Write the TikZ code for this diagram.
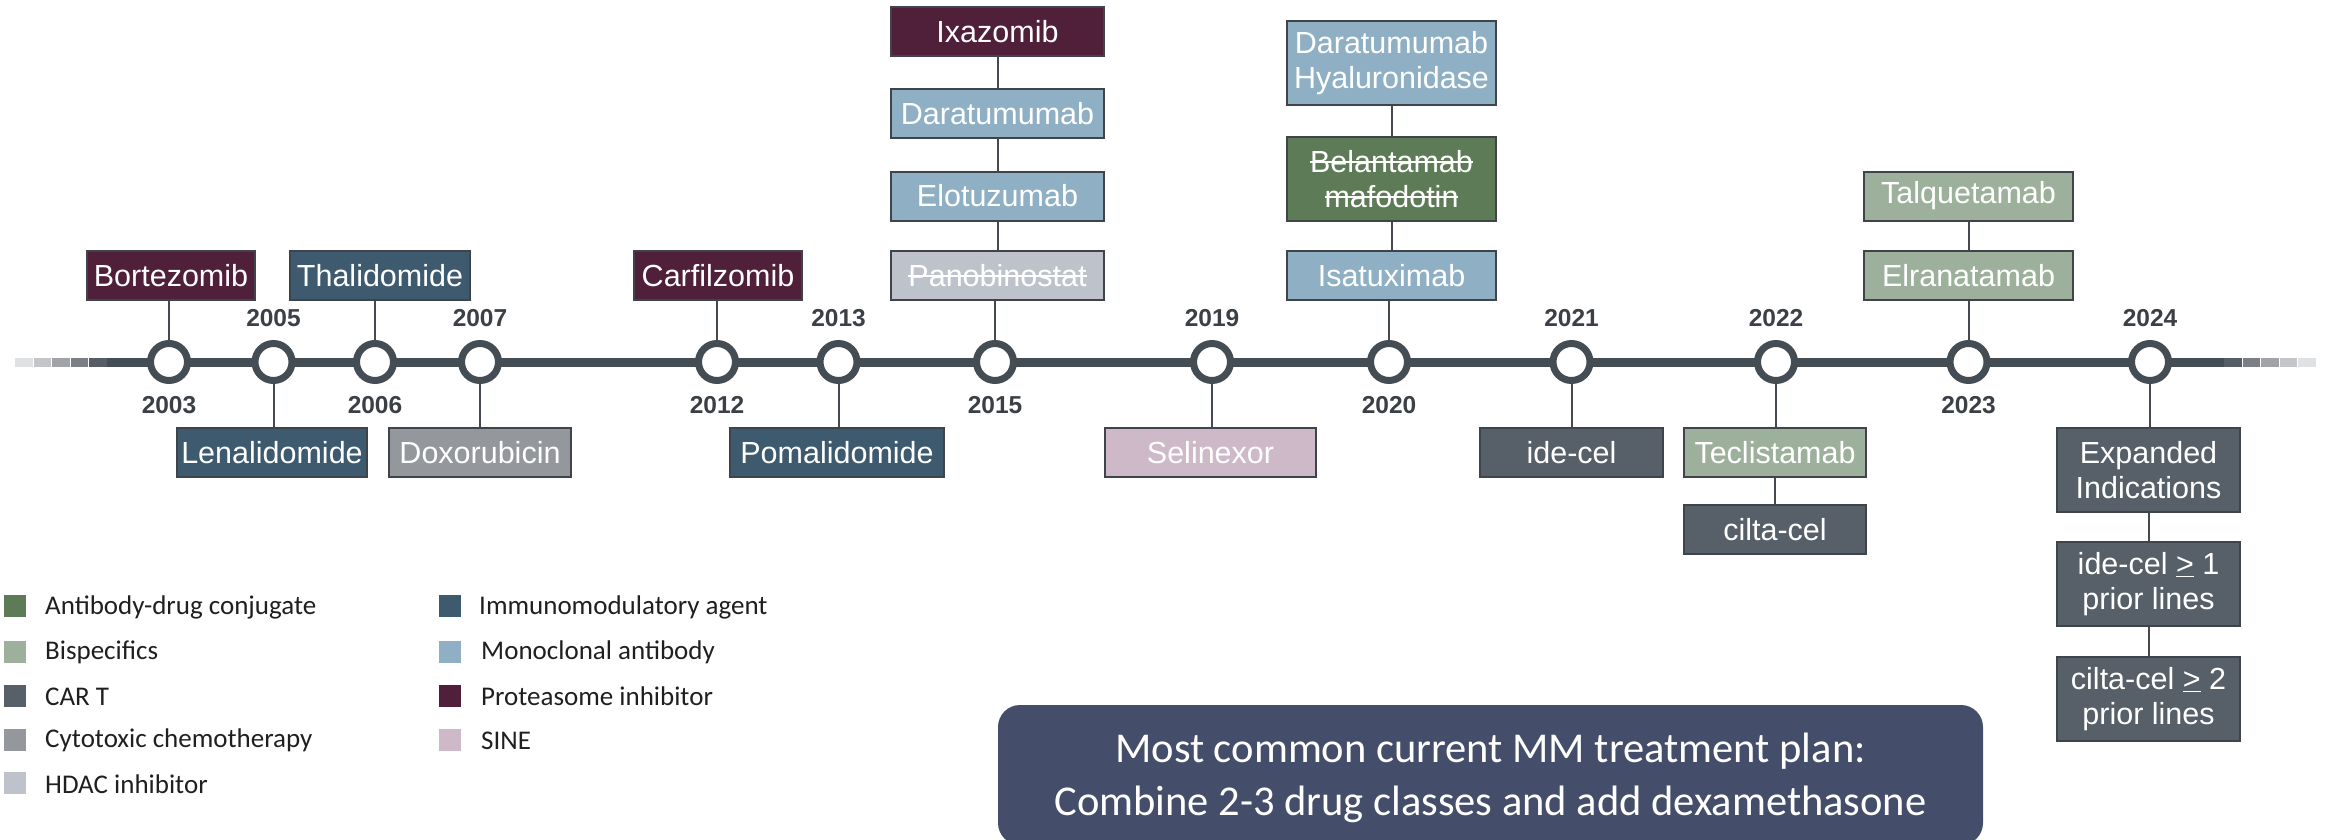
\documentclass[tikz,border=0pt]{standalone}
\usepackage{fontspec}
\setmainfont{Liberation Sans}
\newfontfamily\legfont{Carlito}
\newsavebox\strkbox
\newcommand\strk[1]{\leavevmode\sbox\strkbox{#1}\rlap{\raise0.3em\hbox{\vrule width\wd\strkbox height 1.9pt depth 0pt}}\usebox\strkbox}
\definecolor{adc}{HTML}{5E7B57}
\definecolor{bis}{HTML}{9DB09B}
\definecolor{cart}{HTML}{575F68}
\definecolor{cyto}{HTML}{94979B}
\definecolor{hdac}{HTML}{BEC3CB}
\definecolor{imid}{HTML}{3D5A6E}
\definecolor{mab}{HTML}{8FB0C4}
\definecolor{prot}{HTML}{501F39}
\definecolor{sine}{HTML}{CDB9C7}
\definecolor{tl}{HTML}{444C54}
\definecolor{boxline}{HTML}{3E444A}
\definecolor{connc}{HTML}{454A50}
\definecolor{yearc}{HTML}{3B4046}
\definecolor{navy}{HTML}{444D6A}
\definecolor{legtext}{HTML}{1F1F1F}
\definecolor{fa}{HTML}{DFE1E3}
\definecolor{fb}{HTML}{C3C6C9}
\definecolor{fc}{HTML}{A0A4A8}
\definecolor{fd}{HTML}{7A7F85}
\definecolor{fe}{HTML}{575D64}
\begin{document}
\begin{tikzpicture}[x=1pt,y=-1pt,
  bx/.style={draw=boxline, line width=2pt, text=white, font=\fontsize{30.5}{35}\selectfont,
    align=center, inner sep=0pt, minimum height=49pt},
  bxt/.style={bx, minimum height=84pt},
  yr/.style={font=\bfseries\fontsize{24.5}{24.5}\selectfont, text=yearc, inner sep=0pt},
  dot/.style={circle, draw=tl, line width=7pt, fill=white, minimum size=37pt, inner sep=0pt},
  conn/.style={draw=connc, line width=2pt},
  legsq/.style={minimum size=22pt, inner sep=0pt},
  legtx/.style={anchor=west, font=\legfont\fontsize{27}{27}\selectfont, text=legtext, inner sep=0pt}
]
\useasboundingbox (0,0) rectangle (2329,840);

% timeline
\coordinate (tlA) at (105,362);
\coordinate (tlB) at (2226,362);
\draw[tl, line width=9pt] (tlA) -- (tlB);
\fill[fa] (15,357.5) rectangle (32.5,366.5);
\fill[fb] (33.5,357.5) rectangle (51,366.5);
\fill[fc] (52,357.5) rectangle (69.5,366.5);
\fill[fd] (70.5,357.5) rectangle (88,366.5);
\fill[fe] (89,357.5) rectangle (106.5,366.5);
\fill[fe] (2224,357.5) rectangle (2241.5,366.5);
\fill[fd] (2242.5,357.5) rectangle (2260,366.5);
\fill[fc] (2261,357.5) rectangle (2278.5,366.5);
\fill[fb] (2279.5,357.5) rectangle (2297,366.5);
\fill[fa] (2298,357.5) rectangle (2316,366.5);

% circles
\node[dot] (c2003) at (169,362) {};
\node[dot] (c2005) at (273.5,362) {};
\node[dot] (c2006) at (375,362) {};
\node[dot] (c2007) at (480,362) {};
\node[dot] (c2012) at (717,362) {};
\node[dot] (c2013) at (838.5,362) {};
\node[dot] (c2015) at (995,362) {};
\node[dot] (c2019) at (1212,362) {};
\node[dot] (c2020) at (1389,362) {};
\node[dot] (c2021) at (1571.5,362) {};
\node[dot] (c2022) at (1776,362) {};
\node[dot] (c2023) at (1968.5,362) {};
\node[dot] (c2024) at (2150,362) {};

% years
\node[yr] (y2003) at (169,405) {2003};
\node[yr] (y2005) at (273.5,318) {2005};
\node[yr] (y2006) at (375,405) {2006};
\node[yr] (y2007) at (480,318) {2007};
\node[yr] (y2012) at (717,405) {2012};
\node[yr] (y2013) at (838.5,318) {2013};
\node[yr] (y2015) at (995,405) {2015};
\node[yr] (y2019) at (1212,318) {2019};
\node[yr] (y2020) at (1389,405) {2020};
\node[yr] (y2021) at (1571.5,318) {2021};
\node[yr] (y2022) at (1776,318) {2022};
\node[yr] (y2023) at (1968.5,405) {2023};
\node[yr] (y2024) at (2150,318) {2024};

% top boxes
\node[bx, fill=prot, minimum width=168pt] (bort) at (171,275.5) {Bortezomib};
\node[bx, fill=imid, minimum width=180pt] (thal) at (380,275.5) {Thalidomide};
\node[bx, fill=prot, minimum width=168pt] (carf) at (718,275.5) {Carfilzomib};
\node[bx, fill=hdac, minimum width=213pt] (pano) at (997.5,275.5) {\strk{Panobinostat}};
\node[bx, fill=mab, minimum width=213pt] (elot) at (997.5,196) {Elotuzumab};
\node[bx, fill=mab, minimum width=213pt] (dara) at (997.5,114) {Daratumumab};
\node[bx, fill=prot, minimum width=213pt] (ixaz) at (997.5,32) {Ixazomib};
\node[bx, fill=mab, minimum width=209pt] (isat) at (1391.5,275.5) {Isatuximab};
\node[bxt, fill=adc, minimum width=209pt] (bela) at (1391.5,179) {\strk{Belantamab}\\\strk{mafodotin}};
\node[bxt, fill=mab, minimum width=209pt] (dh) at (1391.5,63) {Daratumumab\\Hyaluronidase};
\node[bx, fill=bis, minimum width=209pt] (elra) at (1968.5,275.5) {Elranatamab};
\node[bx, fill=bis, minimum width=209pt] (talq) at (1968.5,196) {Talquetamab};

% bottom boxes
\node[bx, fill=imid, minimum width=190pt] (lena) at (272,452.5) {Lenalidomide};
\node[bx, fill=cyto, minimum width=182pt] (doxo) at (480,452.5) {Doxorubicin};
\node[bx, fill=imid, minimum width=214pt] (poma) at (837,452.5) {Pomalidomide};
\node[bx, fill=sine, minimum width=211pt] (seli) at (1210.5,452.5) {Selinexor};
\node[bx, fill=cart, minimum width=183pt] (idec) at (1571.5,452.5) {ide-cel};
\node[bx, fill=bis, minimum width=182pt] (tecl) at (1775,452.5) {Teclistamab};
\node[bx, fill=cart, minimum width=182pt] (cilt) at (1775,529.5) {cilta-cel};
\node[bxt, fill=cart, minimum width=183pt] (expa) at (2148.5,470) {Expanded\\Indications};
\node[bxt, fill=cart, minimum width=183pt] (ide1) at (2148.5,584) {ide-cel \underline{>} 1\\prior lines};
\node[bxt, fill=cart, minimum width=183pt] (cil2) at (2148.5,699) {cilta-cel \underline{>} 2\\prior lines};

% connectors
\draw[conn] (c2003.north) -- (c2003.north |- bort.south);
\draw[conn] (c2005.south) -- (c2005.south |- lena.north);
\draw[conn] (c2006.north) -- (c2006.north |- thal.south);
\draw[conn] (c2007.south) -- (c2007.south |- doxo.north);
\draw[conn] (c2012.north) -- (c2012.north |- carf.south);
\draw[conn] (c2013.south) -- (c2013.south |- poma.north);
\draw[conn] (c2015.north) -- (c2015.north |- pano.south);
\draw[conn] (pano.north) -- (elot.south);
\draw[conn] (elot.north) -- (dara.south);
\draw[conn] (dara.north) -- (ixaz.south);
\draw[conn] (c2019.south) -- (c2019.south |- seli.north);
\draw[conn] (c2020.north) -- (c2020.north |- isat.south);
\draw[conn] (isat.north) -- (bela.south);
\draw[conn] (bela.north) -- (dh.south);
\draw[conn] (c2021.south) -- (c2021.south |- idec.north);
\draw[conn] (c2022.south) -- (c2022.south |- tecl.north);
\draw[conn] (tecl.south) -- (cilt.north);
\draw[conn] (c2023.north) -- (c2023.north |- elra.south);
\draw[conn] (elra.north) -- (talq.south);
\draw[conn] (c2024.south) -- (c2024.south |- expa.north);
\draw[conn] (expa.south) -- (ide1.north);
\draw[conn] (ide1.south) -- (cil2.north);

% legend
\node[legsq, fill=adc] (la) at (15,606) {};
\node[legtx] (lat) at (45,607) {Antibody-drug conjugate};
\node[legsq, fill=bis] (lb) at (15,651.5) {};
\node[legtx] (lbt) at (45,652.5) {Bispecifics};
\node[legsq, fill=cart] (lc) at (15,695.5) {};
\node[legtx] (lct) at (45,696.5) {CAR T};
\node[legsq, fill=cyto] (ld) at (15,739.5) {};
\node[legtx] (ldt) at (45,740.5) {Cytotoxic chemotherapy};
\node[legsq, fill=hdac] (le) at (15,783) {};
\node[legtx] (let) at (45,784) {HDAC inhibitor};
\node[legsq, fill=imid] (lf) at (449.5,606) {};
\node[legtx] (lft) at (479,607) {Immunomodulatory agent};
\node[legsq, fill=mab] (lg) at (449.5,651.5) {};
\node[legtx] (lgt) at (481,652.5) {Monoclonal antibody};
\node[legsq, fill=prot] (lh) at (449.5,695.5) {};
\node[legtx] (lht) at (481,696.5) {Proteasome inhibitor};
\node[legsq, fill=sine] (li) at (449.5,739.5) {};
\node[legtx] (lit) at (481,740.5) {SINE};

% bottom message box
\fill[navy, rounded corners=22pt] (998,705) rectangle (1983,845);
\node[font=\legfont\fontsize{42.5}{53}\selectfont, text=white, align=center, inner sep=0pt] (msg) at (1490.5,778)
  {Most common current MM treatment plan:\\Combine 2-3 drug classes and add dexamethasone};
\end{tikzpicture}
\end{document}
